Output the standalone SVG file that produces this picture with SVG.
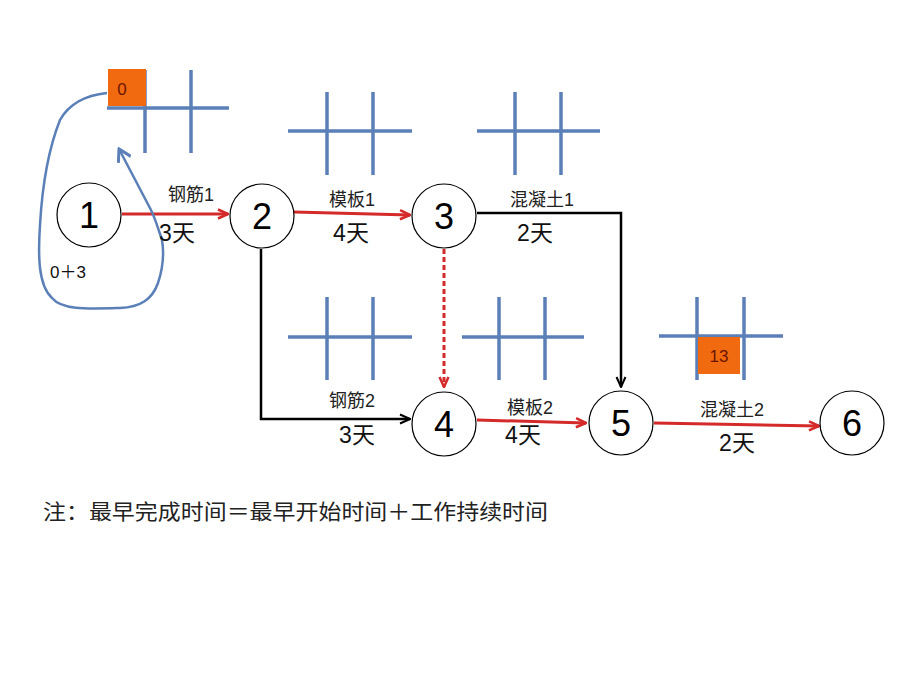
<svg xmlns="http://www.w3.org/2000/svg" width="920" height="690" viewBox="0 0 920 690">
<defs>
<style>
.node circle{fill:#fff;stroke:#000;stroke-width:1.2}
.node text{font-family:"Liberation Sans","Open Sans",sans-serif;font-size:36px;fill:#000;text-anchor:middle}
.grid line{stroke:#5b80b8;stroke-width:3.5}
.lbl{font-family:"Liberation Sans","Noto Sans CJK SC",sans-serif;font-size:18px;fill:#222;text-anchor:middle}
.dur{font-family:"Liberation Sans","Noto Sans CJK SC",sans-serif;font-size:23px;fill:#111;text-anchor:middle}
.red{stroke:#d42a2a;stroke-width:3;fill:none}
.blk{stroke:#000;stroke-width:2.5;fill:none}
.box{fill:#f26a10}
.boxt{font-family:"Liberation Sans",sans-serif;font-size:17px;fill:#6a1500;text-anchor:middle}
</style>
<marker id="ar" viewBox="0 0 12 12" refX="11" refY="6" markerWidth="12" markerHeight="12" markerUnits="userSpaceOnUse" orient="auto">
<path d="M1,1.5 L11,6 L1,10.5" fill="none" stroke="#d42a2a" stroke-width="2.5"/>
</marker>
<marker id="ab" viewBox="0 0 12 12" refX="11" refY="6" markerWidth="12" markerHeight="12" markerUnits="userSpaceOnUse" orient="auto">
<path d="M1,1.5 L11,6 L1,10.5" fill="none" stroke="#000" stroke-width="2"/>
</marker>
<marker id="abl" viewBox="0 0 16 16" refX="14" refY="8" markerWidth="16" markerHeight="16" markerUnits="userSpaceOnUse" orient="auto">
<path d="M2,1 L14,8 L2,15" fill="none" stroke="#5b80b8" stroke-width="3"/>
</marker>
</defs>
<rect width="920" height="690" fill="#fff"/>

<g id="grids" class="grid">
<g id="grid1"><line x1="107" y1="108" x2="229" y2="108"/><line x1="145" y1="70" x2="145" y2="153"/><line x1="191" y1="70" x2="191" y2="153"/></g>
<g id="grid2"><line x1="288" y1="131" x2="412" y2="131"/><line x1="327" y1="92" x2="327" y2="175"/><line x1="373" y1="92" x2="373" y2="175"/></g>
<g id="grid3"><line x1="477" y1="131" x2="600" y2="131"/><line x1="515" y1="92" x2="515" y2="175"/><line x1="561" y1="92" x2="561" y2="175"/></g>
<g id="grid4"><line x1="288" y1="337" x2="412" y2="337"/><line x1="327" y1="297" x2="327" y2="380"/><line x1="373" y1="297" x2="373" y2="380"/></g>
<g id="grid5"><line x1="462" y1="337" x2="584" y2="337"/><line x1="499" y1="297" x2="499" y2="380"/><line x1="545" y1="297" x2="545" y2="380"/></g>
<g id="grid6"><line x1="659" y1="336" x2="783" y2="336"/><line x1="697" y1="297" x2="697" y2="380"/><line x1="744" y1="297" x2="744" y2="380"/></g>
</g>

<g id="box0"><rect class="box" x="108" y="69" width="38" height="37"/><text class="boxt" x="122" y="95">0</text></g>
<g id="box13"><rect class="box" x="698" y="337" width="42" height="37"/><text class="boxt" x="719" y="362">13</text></g>

<g id="connectors">
<path class="red" d="M122,214 L228,214" marker-end="url(#ar)"/>
<path class="red" d="M294,212 L410,215" marker-end="url(#ar)"/>
<path class="blk" d="M477,213 L621,213 L621,387" marker-end="url(#ab)"/>
<path class="blk" d="M261,249 L261,419 L410,419" marker-end="url(#ab)"/>
<path class="red" d="M444,249 L444,387" stroke-dasharray="5,3" marker-end="url(#ar)"/>
<path class="red" d="M477,420 L586,423" marker-end="url(#ar)"/>
<path class="red" d="M654,423 L819,426" marker-end="url(#ar)"/>
<path d="M107,93 C88,95 70,102 60,120 C48,150 42,190 40,225 C38,255 38,285 52,298 C62,310 85,309 120,308 C140,307 152,300 158,283 C163,268 164,252 162,240 C158,228 155,218 151,210 L119,149" fill="none" stroke="#5b80b8" stroke-width="2.5" marker-end="url(#abl)"/>
</g>

<g id="n1" class="node"><circle cx="89" cy="215" r="32"/><text x="89" y="228">1</text></g>
<g id="n2" class="node"><circle cx="262" cy="216" r="32"/><text x="262" y="229">2</text></g>
<g id="n3" class="node"><circle cx="444" cy="216" r="32"/><text x="444" y="229">3</text></g>
<g id="n4" class="node"><circle cx="444" cy="424" r="32"/><text x="444" y="437">4</text></g>
<g id="n5" class="node"><circle cx="621" cy="423" r="32"/><text x="621" y="436">5</text></g>
<g id="n6" class="node"><circle cx="852" cy="423" r="32"/><text x="852" y="436">6</text></g>

<g id="labels">
<text class="lbl" x="191" y="201">钢筋1</text>
<text class="dur" x="177" y="241">3天</text>
<text class="lbl" x="352" y="206">模板1</text>
<text class="dur" x="351" y="241">4天</text>
<text class="lbl" x="542" y="206">混凝土1</text>
<text class="dur" x="535" y="241">2天</text>
<text class="lbl" x="352" y="407">钢筋2</text>
<text class="dur" x="357" y="443">3天</text>
<text class="lbl" x="530" y="414">模板2</text>
<text class="dur" x="523" y="443">4天</text>
<text class="lbl" x="732" y="416">混凝土2</text>
<text class="dur" x="737" y="451">2天</text>
<text x="68" y="278" font-family="Liberation Sans,'Noto Sans CJK SC',sans-serif" font-size="17" fill="#111" text-anchor="middle">0＋3</text>
<text x="43" y="519" font-family="'Noto Sans CJK SC',sans-serif" font-size="21" fill="#222" textLength="505" lengthAdjust="spacingAndGlyphs">注：最早完成时间＝最早开始时间＋工作持续时间</text>
</g>
</svg>
